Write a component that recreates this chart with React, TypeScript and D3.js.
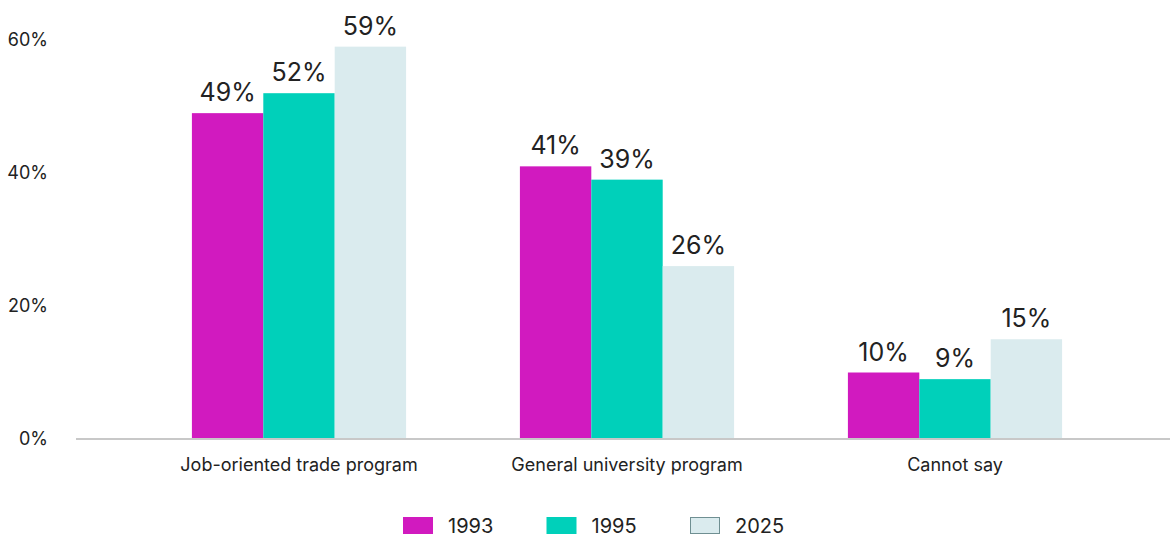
import React from "react";
import * as d3 from "d3";

const categories = ["Job-oriented trade program", "General university program", "Cannot say"];
const seriesNames = ["1993", "1995", "2025"];
const values1993 = [49, 41, 10];
const values1995 = [52, 39, 9];
const values2025 = [59, 26, 15];
const yTicks = [0, 20, 40, 60];
const colors = ["#D11ABF", "#00D0BA", "#DAEBEE"];

const W = 1170;
const H = 536;
const FONT = "Inter, 'Liberation Sans', Arial, sans-serif";

export default function App() {
  const series = [values1993, values1995, values2025];
  const y = d3.scaleLinear().domain([0, 60]).range([439, 40]);
  const x0 = d3
    .scaleBand<string>()
    .domain(categories)
    .range([135, 1119])
    .paddingInner(0.347)
    .paddingOuter(0.1735);
  const x1 = d3.scaleBand<string>().domain(seriesNames).range([0, x0.bandwidth()]).padding(0);

  return (
    <svg
      width={W}
      height={H}
      style={{ position: "absolute", left: 0, top: 0, background: "#fff" }}
      fontFamily={FONT}
    >
      {yTicks.map((t) => (
        <text key={t} x={48} y={y(t)} dy="0.35em" textAnchor="end" fontSize={18} fill="#222">
          {t}%
        </text>
      ))}
      {categories.map((c, ci) => (
        <g key={c} transform={`translate(${x0(c)},0)`}>
          {seriesNames.map((s, si) => {
            const v = series[si][ci];
            const bx = x1(s)!;
            return (
              <g key={s}>
                <rect x={bx} y={y(v)} width={x1.bandwidth()} height={y(0) - y(v)} fill={colors[si]} />
                <text
                  x={bx + x1.bandwidth() / 2}
                  y={y(v) - 12}
                  textAnchor="middle"
                  fontSize={25}
                  fill="#222"
                >
                  {v}%
                </text>
              </g>
            );
          })}
          <text x={x0.bandwidth() / 2} y={471} textAnchor="middle" fontSize={18} fill="#222">
            {c}
          </text>
        </g>
      ))}
      <line x1={76} x2={W} y1={y(0)} y2={y(0)} stroke="#c8c8c8" strokeWidth={2} />
      {seriesNames.map((s, i) => {
        const lx = 403 + i * 143.5;
        return (
          <g key={s} transform={`translate(${lx},517)`}>
            <rect
              x={0.5}
              y={0.5}
              width={29}
              height={16}
              fill={colors[i]}
              stroke={i === 2 ? "#6f8f92" : colors[i]}
              strokeWidth={1}
            />
            <text x={45} y={8.5} dy="0.35em" fontSize={20} fill="#222">
              {s}
            </text>
          </g>
        );
      })}
    </svg>
  );
}
